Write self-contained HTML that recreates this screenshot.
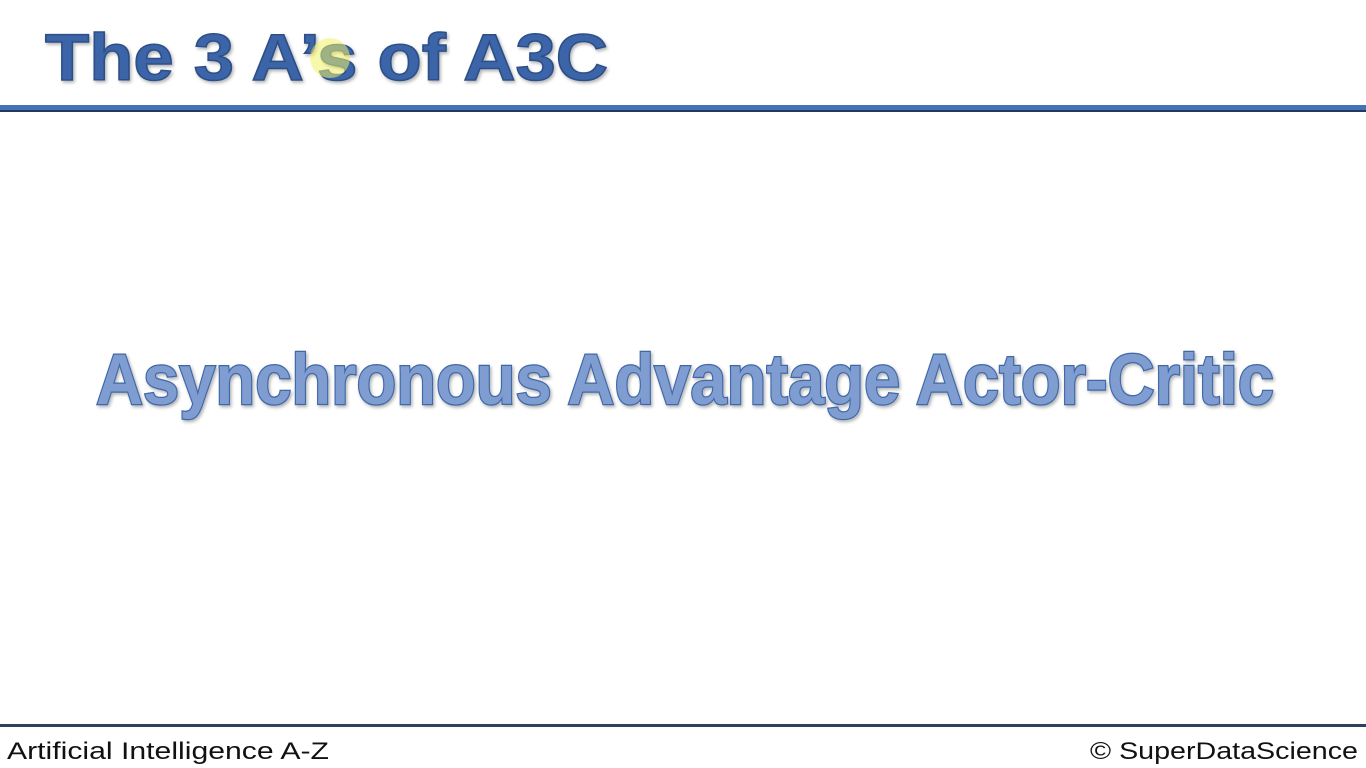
<!DOCTYPE html>
<html><head><meta charset="utf-8">
<style>
html,body{margin:0;padding:0;background:#fff;width:1366px;height:768px;overflow:hidden;font-family:"Liberation Sans",sans-serif;}
svg{position:absolute;left:0;top:0;}
</style></head>
<body>
<svg width="1366" height="768">
  <defs>
    <filter id="sh" x="-5%" y="-10%" width="110%" height="130%">
      <feDropShadow dx="1.5" dy="2" stdDeviation="1.5" flood-color="#000" flood-opacity="0.3"/>
    </filter>
  </defs>
  <text x="45" y="80" font-family="Liberation Sans, sans-serif" font-weight="bold" font-size="66" fill="#3b65a8" stroke="#2d4f86" stroke-width="1.5" textLength="563" lengthAdjust="spacingAndGlyphs" filter="url(#sh)">The 3 A’s of A3C</text>
  <circle cx="330" cy="58" r="20" fill="#f3f36a" opacity="0.55"/>
  <rect x="0" y="105" width="1366" height="6" fill="#4571b6"/>
  <rect x="0" y="110" width="1366" height="2" fill="#23395c"/>
  <text x="96" y="404" font-family="Liberation Sans, sans-serif" font-weight="bold" font-size="71" fill="#7f9dd0" stroke="#3f68a8" stroke-width="2.5" paint-order="stroke" textLength="1178" lengthAdjust="spacingAndGlyphs" filter="url(#sh)">Asynchronous Advantage Actor-Critic</text>
  <rect x="0" y="724" width="1366" height="3" fill="#2c4060"/>
  <text x="7" y="759" font-family="Liberation Sans, sans-serif" font-size="24" fill="#111" textLength="322" lengthAdjust="spacingAndGlyphs">Artificial Intelligence A-Z</text>
  <text x="1090" y="759" font-family="Liberation Sans, sans-serif" font-size="24" fill="#111" textLength="268" lengthAdjust="spacingAndGlyphs">© SuperDataScience</text>
</svg>
</body></html>
